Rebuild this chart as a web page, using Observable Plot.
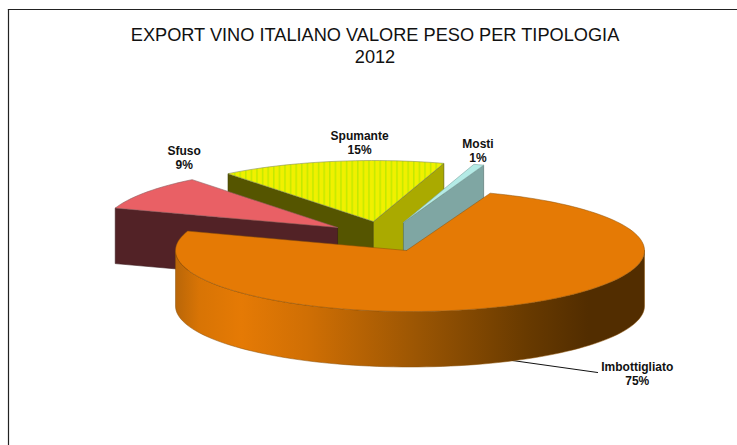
<!DOCTYPE html>
<html>
<head>
<meta charset="utf-8">
<script src="https://cdn.jsdelivr.net/npm/d3@7"></script>
<script src="https://cdn.jsdelivr.net/npm/@observablehq/plot@0.6"></script>
<style>
  html, body { margin: 0; padding: 0; background: #fff; }
  svg { display: block; }
</style>
</head>
<body>
<div id="chart"></div>
<script>
const titleLines = ["EXPORT VINO ITALIANO VALORE PESO PER TIPOLOGIA", "2012"];
const categories = ["Imbottigliato", "Sfuso", "Spumante", "Mosti"];
const shares = [74.6, 9.2, 15.5, 0.7];      // labelled as 75, 9, 15, 1
const percentLabels = ["75%", "9%", "15%", "1%"];

// Layout, in unit-pie coordinates (the rim ellipse of the main slice spans -1..1)
const startAngle = 20;
const rimOffsetX = [0, -0.309, -0.156, -0.028];
const rimOffsetY = [0, 0.377, 0.475, 0.459];
const apexShiftX = [-0.015, 0, 0, 0];
const depth = 0.91;
const labelX = [0.969, -0.963, -0.215, 0.29];
const labelY = [-2.015, 1.53, 1.765, 1.636];
const leaderFrom = [0.43, -1.8];
const leaderTo = [0.80, -2.0];

// Angle span of each slice, clockwise from the top, from the shares
let cursor = startAngle;
const slices = categories.map((name, i) => {
  const a0 = cursor;
  cursor += shares[i] * 3.6;
  return {name, a0, a1: cursor, ox: rimOffsetX[i], oy: rimOffsetY[i], ax: apexShiftX[i]};
});
const rim = (s, a, down = 0) => {
  const r = a * Math.PI / 180;
  return {x: s.ox + Math.sin(r), y: s.oy + Math.cos(r) - down};
};
const apex = (s, down = 0) => ({x: s.ox + s.ax, y: s.oy - down});
const arc = (s, a0, a1, down = 0) => {
  const n = Math.max(2, Math.ceil(Math.abs(a1 - a0) / 2));
  return d3.range(n + 1).map(i => rim(s, a0 + (a1 - a0) * i / n, down));
};
const topFace = s => [apex(s), ...arc(s, s.a0, s.a1), apex(s)];
const cutFace = (s, a) => [apex(s), rim(s, a), rim(s, a, depth), apex(s, depth), apex(s)];
const outerWall = (s, a0, a1) => {
  const top = arc(s, a0, a1), bottom = arc(s, a1, a0, depth);
  return [...top, ...bottom, top[0]];
};
const poly = (points, fill, stroke, strokeWidth = 0.6) =>
  Plot.line(points, {x: "x", y: "y", fill, stroke, strokeWidth, strokeLinejoin: "round"});

const [imb, sfu, spu, mos] = slices;

const labels = categories.map((c, i) => ({text: `${c}\n${percentLabels[i]}`, x: labelX[i], y: labelY[i]}));

const chart = Plot.plot({
  width: 737,
  height: 445,
  marginLeft: 8,
  marginTop: 9,
  marginRight: 0,
  marginBottom: 0,
  style: {background: "#fff", overflow: "visible"},
  x: {type: "linear", domain: [-1, 1], range: [175, 644], axis: null},
  y: {type: "linear", domain: [1, -1], range: [189, 311], axis: null},
  marks: [
    Plot.frame({anchor: "top", stroke: "#222", strokeWidth: 1.2}),
    Plot.frame({anchor: "left", stroke: "#222", strokeWidth: 1.2}),
    Plot.text([titleLines.join("\n")], {
      text: d => d, frameAnchor: "top", dx: 2, dy: 15, lineAnchor: "top",
      lineHeight: 1.25, fontSize: 18.2, fontFamily: "'Liberation Sans', Arial, sans-serif", fill: "#111"
    }),
    // Spumante
    poly(cutFace(spu, spu.a0), "#555500", "#3c3c00"),
    poly(cutFace(spu, spu.a1), "#aaaa00", "#555500"),
    poly(topFace(spu), "url(#spumante)", "#8a9060"),
    // Mosti
    poly(cutFace(mos, mos.a1), "#7fa6a3", "#4e6a68"),
    poly(topFace(mos), "#b4ebe6", "#7fa6a3"),
    // Sfuso
    poly(cutFace(sfu, sfu.a0), "#522226", "#3a1a1c"),
    poly(topFace(sfu), "#e96065", "#8e5a5c"),
    // Leader line, then the main slice
    Plot.line([leaderFrom, leaderTo], {x: d => d[0], y: d => d[1], stroke: "#111", strokeWidth: 1}),
    poly(outerWall(imb, 90, 270), "url(#wall)", "#8a5008", 0.5),
    poly(topFace(imb), "#e57a05", "#8a5008", 0.5),
    Plot.text(labels, {
      x: "x", y: "y", text: "text", lineHeight: 1.17, fontSize: 12, fontWeight: "bold",
      fontFamily: "'Liberation Sans', Arial, sans-serif", fill: "#111"
    })
  ]
});

d3.select(chart).insert("defs", ":first-child").html(`
  <linearGradient id="wall" x1="0" x2="1" y1="0" y2="0">
    <stop offset="0" stop-color="#b96608"/>
    <stop offset="0.05" stop-color="#d87405"/>
    <stop offset="0.14" stop-color="#e57a05"/>
    <stop offset="0.28" stop-color="#d06f04"/>
    <stop offset="0.52" stop-color="#9a5503"/>
    <stop offset="0.75" stop-color="#683a00"/>
    <stop offset="0.88" stop-color="#522d00"/>
    <stop offset="1" stop-color="#522d00"/>
  </linearGradient>
  <linearGradient id="stripe" x1="0" x2="1" y1="0" y2="0">
    <stop offset="0" stop-color="#f2f000"/>
    <stop offset="0.6" stop-color="#eef000"/>
    <stop offset="0.82" stop-color="#b0e600"/>
    <stop offset="1" stop-color="#f2f000"/>
  </linearGradient>
  <pattern id="spumante" patternUnits="userSpaceOnUse" width="5.6" height="10">
    <rect width="5.6" height="10" fill="url(#stripe)"/>
  </pattern>`);

document.getElementById("chart").append(chart);
</script>
</body>
</html>
